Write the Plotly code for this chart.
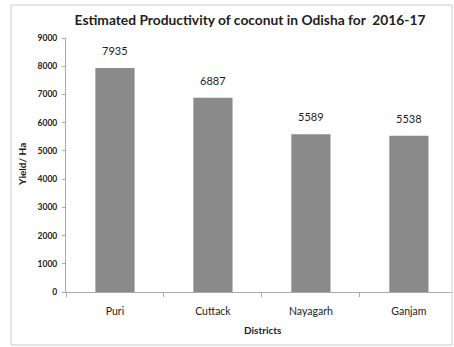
import plotly.graph_objects as go

districts = ["Puri", "Cuttack", "Nayagarh", "Ganjam"]
yield_ha = [7935, 6887, 5589, 5538]
y_ticks = [0, 1000, 2000, 3000, 4000, 5000, 6000, 7000, 8000, 9000]

W, H = 454, 347
L, R, T, B = 66, 2, 38, 55

fig = go.Figure(go.Bar(
    x=districts, y=yield_ha,
    marker=dict(color="#8a8a8a", line=dict(width=0)),
    width=0.4,
))

value_labels = [dict(x=d, y=v, text=str(v), xref="x", yref="y", showarrow=False,
                     yanchor="bottom", xanchor="center", yshift=9,
                     font=dict(family="Lato", size=11, color="#222222"))
                for d, v in zip(districts, yield_ha)]

fig.update_layout(
    width=W, height=H,
    margin=dict(l=L, r=R, t=T, b=B),
    paper_bgcolor="white", plot_bgcolor="white",
    font=dict(family="Lato", color="#222222"),
    showlegend=False,
    title=dict(text="<b>Estimated Productivity of coconut in Odisha for  2016-17</b>",
               x=250/W, xanchor="center", y=1-20/H, yanchor="middle",
               font=dict(family="Lato", size=13.8, color="#222222")),
    xaxis=dict(range=[-0.5, 3.44], showgrid=False, showline=True, linecolor="#aaaaaa",
               ticks="outside", tickson="boundaries", ticklen=4, tickcolor="#aaaaaa",
               ticklabelstandoff=9,
               tickfont=dict(family="Lato", size=10.5, color="#222222"), fixedrange=True),
    yaxis=dict(range=[0, 9000], tickvals=y_ticks, showgrid=False, showline=True,
               linecolor="#aaaaaa", ticks="outside", ticklen=3, tickcolor="#aaaaaa",
               tickfont=dict(family="Lato", size=8.5, color="#222222", weight="bold"),
               ticklabelstandoff=3, zeroline=False),
    shapes=[dict(type="rect", xref="paper", yref="paper",
                 x0=(11-L)/(W-L-R), x1=(452-L)/(W-L-R),
                 y0=(H-B-345)/(H-T-B), y1=(H-B-5)/(H-T-B),
                 line=dict(color="#cccccc", width=1))],
    annotations=value_labels + [
        dict(text="<b>Yield/ Ha</b>", textangle=-90, xref="paper", yref="paper",
             x=(22-L)/(W-L-R), y=(H-B-165)/(H-T-B), xanchor="center", yanchor="middle",
             showarrow=False, font=dict(family="Lato", size=10, color="#222222")),
        dict(text="<b>Districts</b>", xref="paper", yref="paper",
             x=(263-L)/(W-L-R), y=(H-B-330)/(H-T-B), xanchor="center", yanchor="middle",
             showarrow=False, font=dict(family="Lato", size=10, color="#222222")),
    ],
)

fig.write_html("out.html")
